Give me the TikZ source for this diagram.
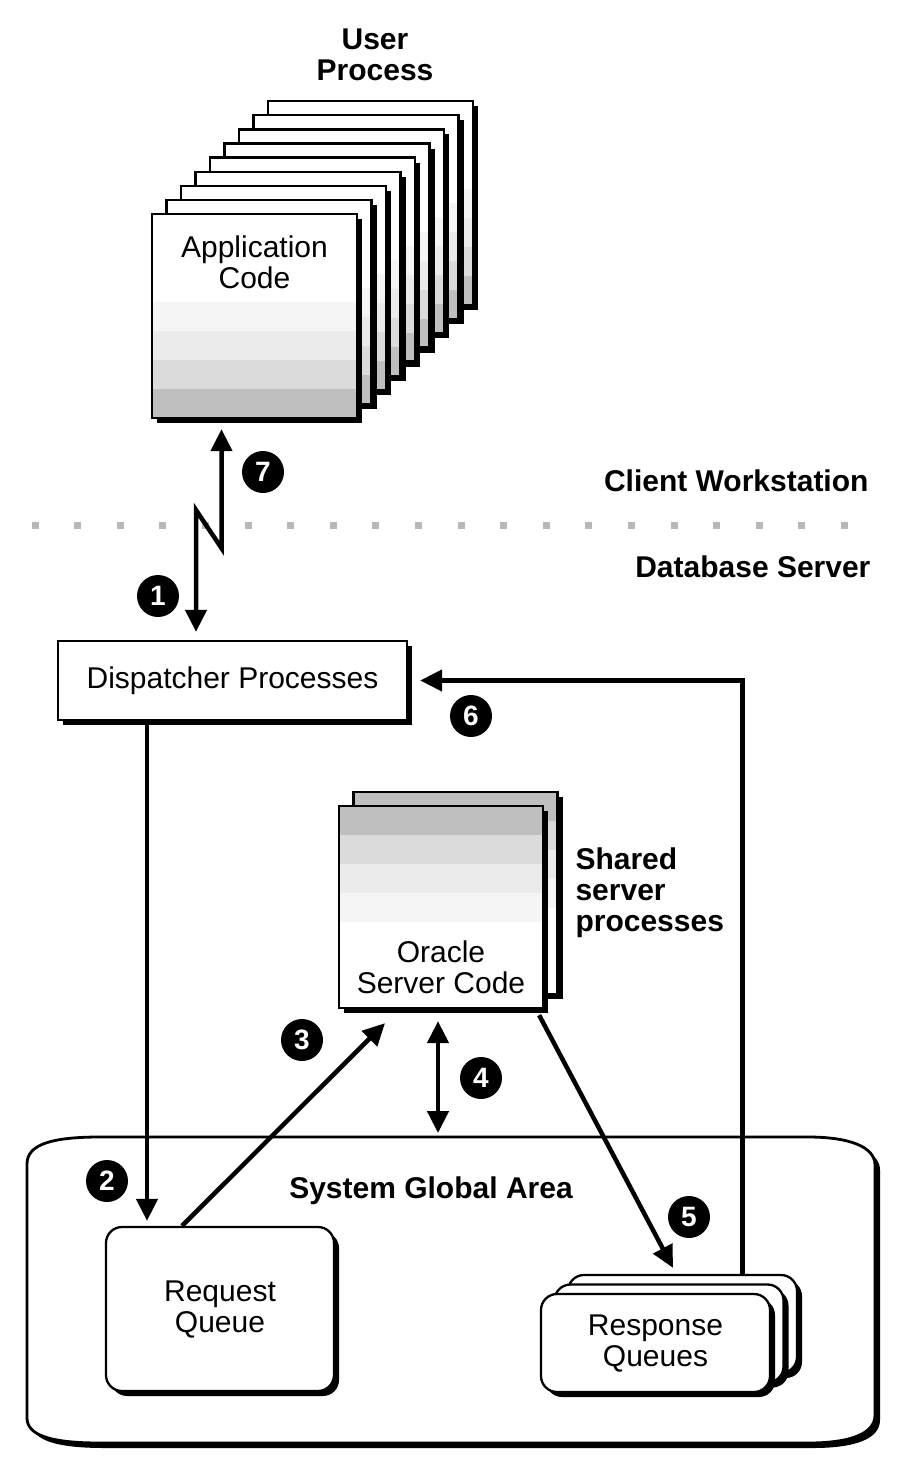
\documentclass[tikz,border=0pt]{standalone}
\usepackage{fontspec}
\setmainfont{Liberation Sans}
\usetikzlibrary{arrows.meta,shadows,calc,positioning}
\begin{document}
\begin{tikzpicture}[x=1pt,y=-1pt,line join=miter,>={Triangle[length=22pt,width=21pt]},
    dropblk/.style={drop shadow={shadow xshift=5pt,shadow yshift=-5pt,opacity=1,fill=black}},
    txt/.style={font=\fontsize{30}{31}\selectfont,align=center},
    lbl/.style={font=\bfseries\fontsize{30}{31}\selectfont,align=left},
    num/.style={circle,fill=black,text=white,inner sep=0pt,minimum size=42pt,font=\bfseries\fontsize{28}{28}\selectfont},
    flowarrow/.style={line width=4.5pt,->},
    procbox/.style={draw,line width=2.3pt,fill=white,inner sep=0pt,minimum width=205pt,minimum height=204pt,dropblk},
    appbox/.style={procbox,path picture={\foreach \c [count=\j from 0] in {black!25,black!14,black!8,black!4}
      \fill[\c] ([yshift={29*\j}]path picture bounding box.south west) rectangle ([yshift={29*\j+29}]path picture bounding box.south east);}},
    orabox/.style={procbox,minimum width=204pt,minimum height=202pt,path picture={\foreach \c [count=\j from 0] in {black!25,black!14,black!8,black!4}
      \fill[\c] ([yshift={-29*\j}]path picture bounding box.north west) rectangle ([yshift={-29*\j-29}]path picture bounding box.north east);}},
    qbox/.style={draw,line width=2.3pt,fill=white,rounded corners=16pt,dropblk,txt}]
  \useasboundingbox (0,0) rectangle (905,1477);

  \node[lbl,align=center] (user) at (375,55) {User\\Process};
  \foreach \k in {8,...,1}
    \node[appbox] at ({254.5+14.5*\k},{316-14.1*\k}) {};
  \node[appbox] (app) at (254.5,316) {};
  \node[txt] (apptxt) at ([yshift=-49pt]app.north) {Application\\Code};

  \foreach \i in {0,...,19}
    \fill[black!28] ({35+42.6*\i-3.5},521.5) rectangle +(7,7);
  \node[lbl,anchor=east] (client) at (872,481) {Client Workstation};
  \node[lbl,anchor=east] (dbs) at (874,567) {Database Server};

  \node[draw,line width=2.3pt,fill=white,dropblk,minimum width=349pt,minimum height=79pt,txt] (disp) at (232.5,680.5) {Dispatcher Processes};

  \node[orabox] at (455.5,893) {};
  \node[orabox] (ora) at (441,907) {};
  \node[txt] (oratxt) at ([yshift=-60pt]ora.center) {Oracle\\Server Code};
  \node[lbl,anchor=west] (shared) at (572,893) {Shared\\server\\processes};

  \draw[line width=2.8pt,fill=white,dropblk] (100,1137) -- (808,1137) .. controls (850,1137) and (875,1147) .. (875,1165)
    -- (875,1415) .. controls (875,1434) and (850,1443) .. (808,1443) -- (100,1443)
    .. controls (50,1443) and (27,1435) .. (27,1418) -- (27,1164) .. controls (27,1145) and (50,1137) .. (100,1137) -- cycle;
  \coordinate (sga) at (431,1137);
  \node[lbl] (sgalbl) at (431,1191) {System Global Area};

  \node[qbox,minimum width=228pt,minimum height=164pt] (reqq) at (220,1309) {Request\\Queue};
  \node[qbox,minimum width=229pt,minimum height=98pt] (rsp3) at (682.5,1324) {};
  \node[qbox,minimum width=229pt,minimum height=98pt] (rsp2) at (669,1333.5) {};
  \node[qbox,minimum width=229pt,minimum height=98pt] (rsp) at (655.5,1343) {Response\\Queues};

  \coordinate (bend) at (196,510);
  \draw[flowarrow,<->] ([xshift=-33pt,yshift=-10pt]app.south) -- ++(0,119) -- (bend) -- ($(bend |- disp.north)+(0,-8)$);
  \coordinate (rqin) at ([xshift=-73pt,yshift=5pt]reqq.north);
  \draw[flowarrow] (disp.south -| rqin) -- (rqin);
  \draw[flowarrow] ([xshift=-38pt]reqq.north) -- ([xshift=-56pt,yshift=-14pt]ora.south);
  \draw[flowarrow,<->] ([xshift=-3pt,yshift=-12pt]ora.south) -- ($(ora.south |- sga)+(-3,-4)$);
  \draw[flowarrow] ([xshift=-5pt,yshift=-6pt]ora.south east) -- ([xshift=-9.5pt,yshift=6pt]rsp3.north);
  \draw[flowarrow] ([xshift=60pt]rsp3.north) |- ([xshift=12pt]disp.east);

  \node[num] (n1) at (158,596) {1};
  \node[num] (n2) at (107,1181) {2};
  \node[num] (n3) at (302,1040) {3};
  \node[num] (n4) at (481,1078) {4};
  \node[num] (n5) at (689,1217) {5};
  \node[num] (n6) at (471,716) {6};
  \node[num] (n7) at (263,472) {7};
\end{tikzpicture}
\end{document}
